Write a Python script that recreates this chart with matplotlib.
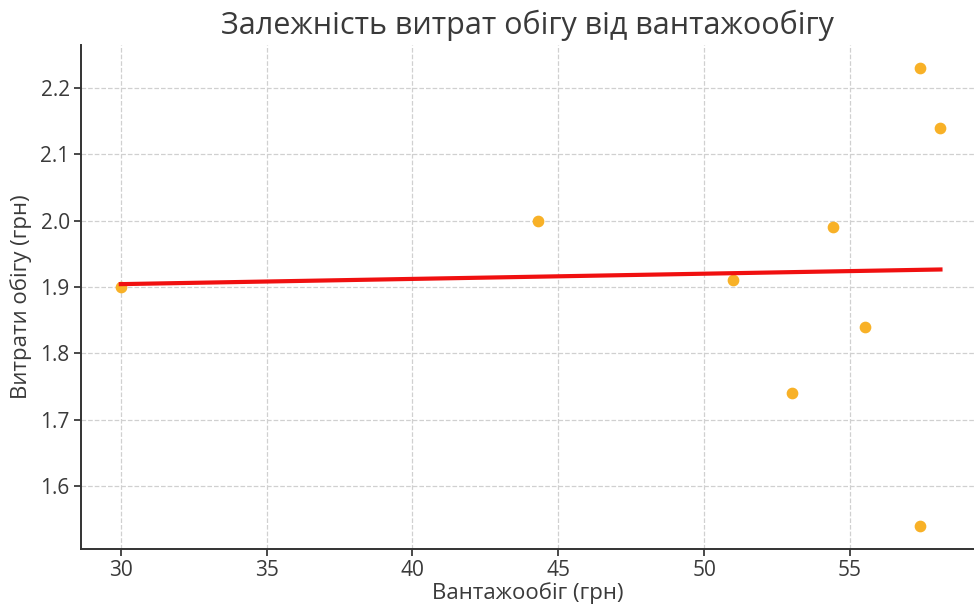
import numpy as np
import matplotlib
matplotlib.use('Agg')
import matplotlib.pyplot as plt

# Data
turnover = [30.0, 44.3, 51.0, 53.0, 54.4, 55.5, 57.4, 58.1, 57.4]
costs = [1.90, 2.00, 1.91, 1.74, 1.99, 1.84, 2.23, 2.14, 1.54]

plt.rcParams['font.family'] = ['Open Sans', 'DejaVu Sans']
text_color = '#3a3a3a'

fig = plt.figure(figsize=(9.74, 6.08), dpi=100)
ax = fig.add_axes([0.083, 0.097, 0.917, 0.829])

# Scatter of observations
ax.scatter(turnover, costs, color='#F8B127', s=55, zorder=3)

# Linear trend line
x = np.array(turnover)
y = np.array(costs)
k, b = np.polyfit(x, y, 1)
xs = np.array([x.min(), x.max()])
ax.plot(xs, k * xs + b, color='#F01010', linewidth=3, zorder=4)

ax.set_xlim(28.63, 59.25)
ax.set_ylim(1.505, 2.265)

ax.set_title('Залежність витрат обігу від вантажообігу', fontsize=22, color=text_color, pad=8)
ax.set_xlabel('Вантажообіг (грн)', fontsize=16, color=text_color, labelpad=1)
ax.set_ylabel('Витрати обігу (грн)', fontsize=16, color=text_color, labelpad=6)

ax.grid(True, linestyle='--', color='#d0d0d0', linewidth=0.9)
ax.set_axisbelow(True)
ax.spines['top'].set_visible(False)
ax.spines['right'].set_visible(False)
ax.spines['left'].set_color('#333333')
ax.spines['bottom'].set_color('#333333')
ax.spines['left'].set_linewidth(1.4)
ax.spines['bottom'].set_linewidth(1.4)
ax.tick_params(labelsize=15, colors=text_color, width=1.3, length=5, pad=3)

fig.savefig('out.png', dpi=100)
